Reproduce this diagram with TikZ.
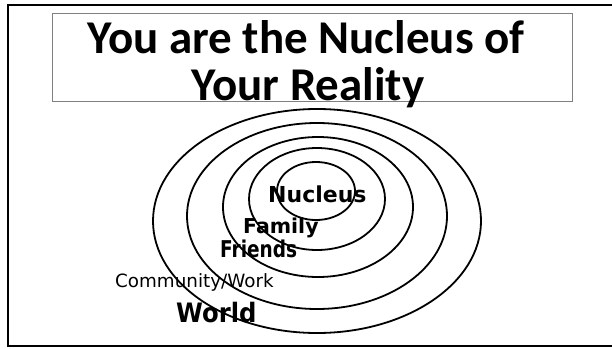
\documentclass[tikz,border=0pt]{standalone}
\usepackage{fontspec}
\setmainfont{Carlito}
\newfontfamily\labelfont{DejaVu Sans}
\tikzset{
  ring/.style={line width=1.8pt},
  ringlabel/.style={anchor=base west, inner sep=0pt},
  titleline/.style={anchor=base, inner sep=0pt, font=\fontsize{47}{47}\selectfont\bfseries}
}
\begin{document}
\begin{tikzpicture}[x=1pt,y=-1pt]
		\useasboundingbox (0,0) rectangle (612,348);
		\clip (0,0) rectangle (612,348);
		% frame and title box
		\draw [line width=2pt] (8,347) -- (8,5) -- (616,5) (8,346) -- (616,346);
		\draw [gray, line width=0.8pt] (52,13) rectangle (572,101);
		\node [titleline] (title1) at (306,53) {You are the Nucleus of};
		\node [titleline] (title2) at (308,100) {Your Reality};
		% rings
		\coordinate (R1) at (316,191);
		\coordinate (R2) at (317,199);
		\coordinate (R3) at (318,207);
		\coordinate (R4) at (317,216);
		\coordinate (R5) at (317,221);
		\draw [ring] (R1) ellipse [x radius=39, y radius=29];
		\draw [ring] (R2) ellipse [x radius=68, y radius=51];
		\draw [ring] (R3) ellipse [x radius=95, y radius=70];
		\draw [ring] (R4) ellipse [x radius=130, y radius=93];
		\draw [ring] (R5) ellipse [x radius=164, y radius=112];
		% labels
		\node [ringlabel, font=\labelfont\bfseries\fontsize{22}{22}\selectfont] (nucleus) at (268,202) {Nucleus};
		\node [ringlabel, font=\labelfont\bfseries\fontsize{20.5}{20.5}\selectfont] (family) at (243,233) {Family};
		\node [ringlabel, font=\labelfont\bfseries\fontsize{18.5}{18.5}\selectfont] (friends) at (220,257) {\scalebox{1}[1.25]{Friends}};
		\node [ringlabel, font=\labelfont\fontsize{18.3}{18.3}\selectfont] (community) at (115,287) {Community/Work};
		\node [ringlabel, font=\labelfont\bfseries\fontsize{24.3}{24.3}\selectfont] (world) at (176,322) {\scalebox{1}[1.1]{World}};
\end{tikzpicture}
\end{document}
